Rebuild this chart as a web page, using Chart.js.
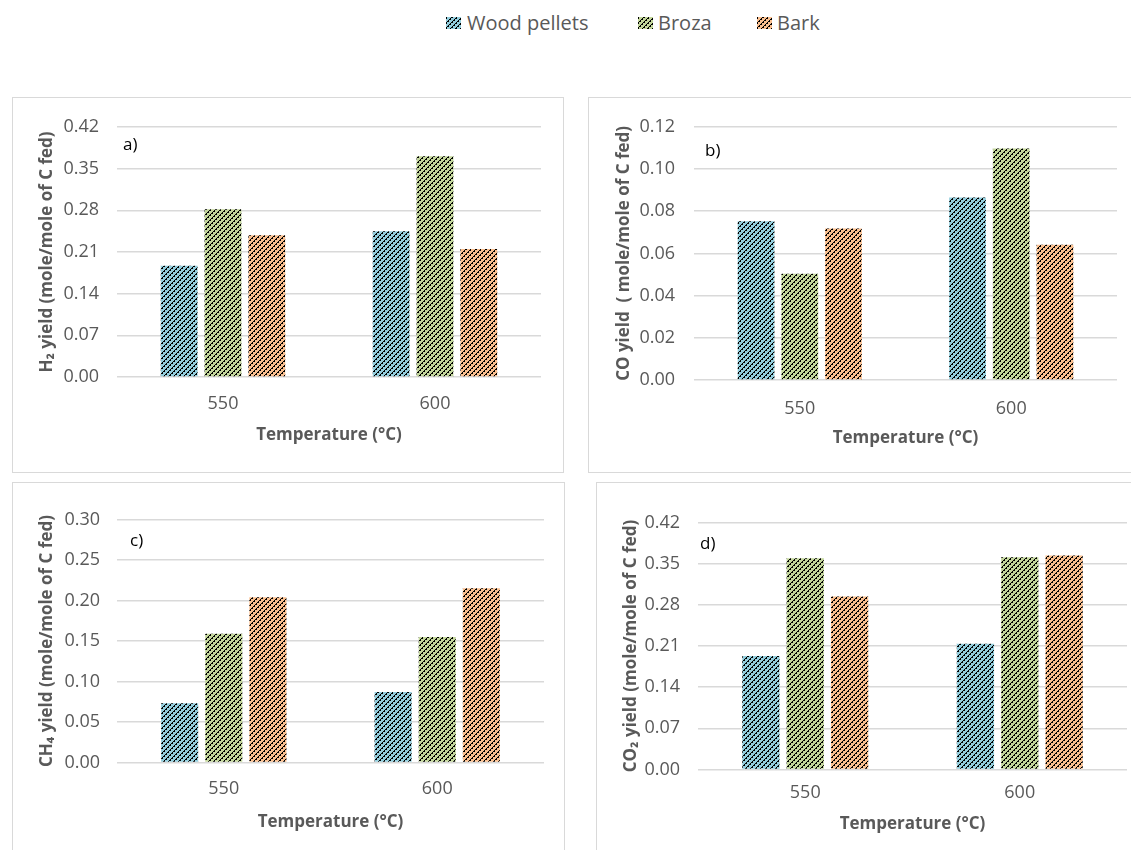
<!DOCTYPE html>
<html>
<head>
<meta charset="utf-8">
<script src="https://cdn.jsdelivr.net/npm/chart.js@4.4.1/dist/chart.umd.min.js"></script>
<style>
  html, body { margin: 0; padding: 0; background: #ffffff; }
  body { width: 1131px; height: 850px; position: relative; overflow: hidden; font-family: "Open Sans", sans-serif; }
  .box { position: absolute; border: 1px solid #d9d9d9; box-sizing: border-box; }
  canvas.panel { position: absolute; }
  .swatch { position: absolute; width: 15px; height: 12px; }
  .ltext { position: absolute; font-family: "Open Sans", sans-serif; font-size: 20px; line-height: 27px; color: #595959; white-space: nowrap; }
</style>
</head>
<body>
<!-- shared legend -->
<canvas class="swatch" id="sw0" width="15" height="12" style="left:446px; top:17px;"></canvas>
<div class="ltext" style="left:467px; top:9px;">Wood pellets</div>
<canvas class="swatch" id="sw1" width="15" height="12" style="left:638px; top:17px;"></canvas>
<div class="ltext" style="left:658px; top:9px;">Broza</div>
<canvas class="swatch" id="sw2" width="15" height="12" style="left:757px; top:17px;"></canvas>
<div class="ltext" style="left:777px; top:9px;">Bark</div>

<!-- panel frames -->
<div class="box" style="left:12px; top:97px; width:552px; height:376px;"></div>
<div class="box" style="left:588px; top:97px; width:560px; height:376px;"></div>
<div class="box" style="left:12px; top:482px; width:553px; height:380px;"></div>
<div class="box" style="left:596px; top:482px; width:552px; height:380px;"></div>

<canvas class="panel" id="chartA" width="552" height="376" style="left:12px; top:97px;"></canvas>
<canvas class="panel" id="chartB" width="543" height="376" style="left:588px; top:97px;"></canvas>
<canvas class="panel" id="chartC" width="553" height="368" style="left:12px; top:482px;"></canvas>
<canvas class="panel" id="chartD" width="535" height="368" style="left:596px; top:482px;"></canvas>

<script>
// Categories and series
const temperatures = ['550', '600'];
const seriesNames = ['Wood pellets', 'Broza', 'Bark'];
const seriesColors = ['#92cddc', '#c3d69b', '#fabf8f'];

// H2 yield (mole/mole of C fed)
const h2Wood  = [0.187, 0.245];
const h2Broza = [0.282, 0.371];
const h2Bark  = [0.238, 0.215];
const h2Ticks = [0, 0.07, 0.14, 0.21, 0.28, 0.35, 0.42];

// CO yield
const coWood  = [0.0752, 0.0865];
const coBroza = [0.0503, 0.1097];
const coBark  = [0.0718, 0.0641];
const coTicks = [0, 0.02, 0.04, 0.06, 0.08, 0.10, 0.12];

// CH4 yield
const ch4Wood  = [0.073, 0.087];
const ch4Broza = [0.159, 0.155];
const ch4Bark  = [0.204, 0.215];
const ch4Ticks = [0, 0.05, 0.10, 0.15, 0.20, 0.25, 0.30];

// CO2 yield
const co2Wood  = [0.193, 0.214];
const co2Broza = [0.359, 0.361];
const co2Bark  = [0.294, 0.364];
const co2Ticks = [0, 0.07, 0.14, 0.21, 0.28, 0.35, 0.42];

const FONT = '"Open Sans", sans-serif';
const GREY = '#595959';

// Solid fill overlaid with dark dashed upward diagonals
function hatch(color) {
  const size = 20;
  const tile = document.createElement('canvas');
  tile.width = size; tile.height = size;
  const g = tile.getContext('2d');
  g.fillStyle = color;
  g.fillRect(0, 0, size, size);
  g.fillStyle = '#000000';
  for (let y = 0; y < size; y++) {
    for (let x = 0; x < size; x++) {
      const d = (x + y) % 5;
      if (d === 0 || (d === 1 && x % 2 === 0)) g.fillRect(x, y, 1, 1);
    }
  }
  return g.createPattern(tile, 'repeat');
}
const patterns = seriesColors.map(hatch);

// legend swatches
patterns.forEach((p, i) => {
  const c = document.getElementById('sw' + i).getContext('2d');
  c.fillStyle = p;
  c.fillRect(0, 0, 15, 12);
});

// panel letter drawn inside the plot area
const tagPlugin = {
  id: 'panelTag',
  afterDraw(chart, args, opts) {
    const { ctx, chartArea } = chart;
    ctx.save();
    ctx.font = '17px ' + FONT;
    ctx.fillStyle = '#000000';
    ctx.textBaseline = 'middle';
    ctx.textAlign = 'left';
    ctx.fillText(opts.text, chartArea.left + opts.dx, chartArea.top + opts.dy);
    ctx.restore();
  }
};

function buildChart(id, series, ticks, yTitle, tag, L) {
  const datasets = series.map((vals, i) => ({
    label: seriesNames[i],
    data: vals,
    backgroundColor: patterns[i],
    borderWidth: 0,
    categoryPercentage: 0.62,
    barPercentage: 0.84
  }));
  return new Chart(document.getElementById(id), {
    type: 'bar',
    data: { labels: temperatures, datasets },
    plugins: [tagPlugin],
    options: {
      responsive: false,
      animation: false,
      devicePixelRatio: 1,
      layout: { padding: { left: 0, top: L.padTop, right: L.padRight, bottom: L.padBottom } },
      plugins: {
        legend: { display: false },
        tooltip: { enabled: false },
        panelTag: { text: tag, dx: L.tagDx, dy: L.tagDy }
      },
      scales: {
        x: {
          grid: { display: false },
          border: { display: false },
          ticks: { padding: L.xTickPad, color: GREY, font: { family: FONT, size: 18 } },
          title: {
            display: true, text: 'Temperature (°C)', color: GREY,
            font: { family: FONT, size: 17, weight: 'bold' },
            padding: { top: 0, bottom: L.xTitlePad }
          },
          afterFit(s) { s.height = L.xAxisH; }
        },
        y: {
          min: 0,
          max: ticks[ticks.length - 1],
          afterBuildTicks(s) { s.ticks = ticks.map(v => ({ value: v })); },
          grid: { color: '#d9d9d9', lineWidth: 1.5, drawTicks: false },
          border: { display: false },
          ticks: {
            padding: L.yTickPad, color: GREY, font: { family: FONT, size: 18 },
            callback: v => Number(v).toFixed(2)
          },
          title: {
            display: true, text: yTitle, color: GREY,
            font: { family: FONT, size: 17, weight: 'bold' },
            padding: { top: L.yTitlePad, bottom: 0 }
          },
          afterFit(s) { s.width = L.yAxisW; }
        }
      }
    }
  });
}

buildChart('chartA', [h2Wood, h2Broza, h2Bark], h2Ticks,
  'H₂ yield (mole/mole of C fed)', 'a)',
  { yAxisW: 105, padTop: 30, padRight: 23, padBottom: 26, xAxisH: 70,
    xTickPad: 8, xTitlePad: 2, yTickPad: 18, yTitlePad: 24.5, tagDx: 6, tagDy: 18 });

buildChart('chartB', [coWood, coBroza, coBark], coTicks,
  'CO yield  ( mole/mole of C fed)', 'b)',
  { yAxisW: 106, padTop: 23, padRight: 14, padBottom: 23, xAxisH: 70,
    xTickPad: 10, xTitlePad: 2, yTickPad: 19, yTitlePad: 25.8, tagDx: 11, tagDy: 24.5 });

buildChart('chartC', [ch4Wood, ch4Broza, ch4Bark], ch4Ticks,
  'CH₄ yield (mole/mole of C fed)', 'c)',
  { yAxisW: 105, padTop: 37.5, padRight: 21, padBottom: 17.5, xAxisH: 70,
    xTickPad: 7.5, xTitlePad: 0.5, yTickPad: 17, yTitlePad: 25.3, tagDx: 13, tagDy: 22 });

buildChart('chartD', [co2Wood, co2Broza, co2Bark], co2Ticks,
  'CO₂ yield (mole/mole of C fed)', 'd)',
  { yAxisW: 102, padTop: 40.5, padRight: 4, padBottom: 14.5, xAxisH: 66,
    xTickPad: 5, xTitlePad: 1, yTickPad: 18, yTitlePad: 24.8, tagDx: 2, tagDy: 22 });
</script>
</body>
</html>
